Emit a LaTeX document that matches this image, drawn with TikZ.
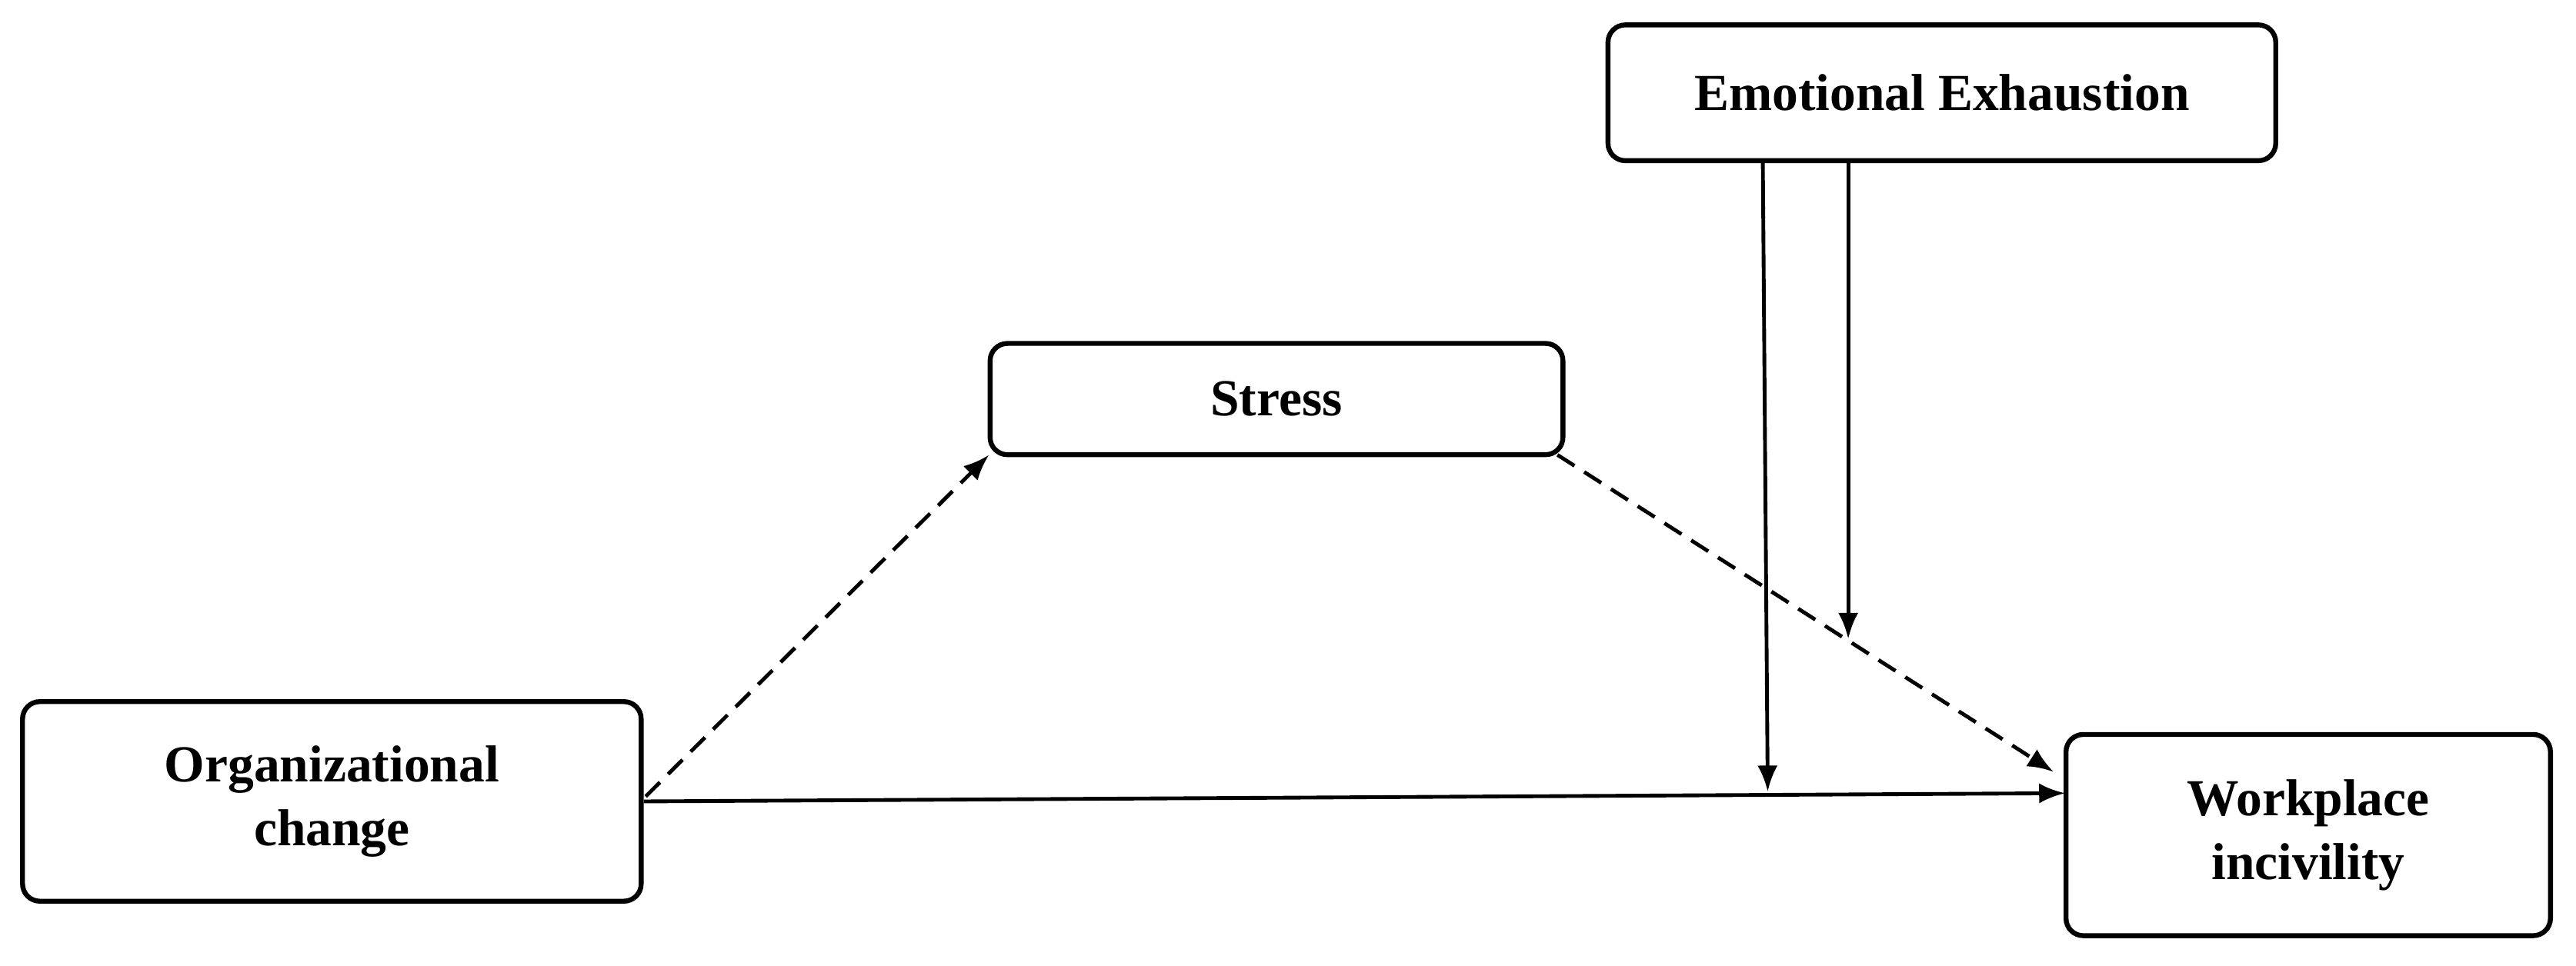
\documentclass[tikz,border=0pt]{standalone}
\usepackage{fontspec}
\setmainfont{Liberation Serif}
\usetikzlibrary{arrows.meta}
\begin{document}
\begin{tikzpicture}[x=0.02cm,y=-0.02cm,
  box/.style={draw,line width=1.7pt,rounded corners=6pt,align=center,font=\fontsize{18}{22}\selectfont\bfseries},
  arr/.style={line width=1.3pt,-{Latex[length=9pt,width=7pt]}},
  dsh/.style={arr,dash pattern=on 7pt off 4pt}]
\useasboundingbox (0,0) rectangle (1568,588);
\node[box,minimum width=408*0.567pt,minimum height=83*0.567pt] (ee) at (1182,56.5) {Emotional Exhaustion};
\node[box,minimum width=350*0.567pt,minimum height=68*0.567pt] (st) at (777,243) {Stress};
\node[box,minimum width=378*0.567pt,minimum height=122*0.567pt] (oc) at (202,488) {Organizational\\change};
\node[box,minimum width=296*0.567pt,minimum height=123*0.567pt] (wi) at (1405,508.5) {Workplace\\incivility};
\coordinate (oa) at (392,488);
\coordinate (wa) at (1257,483);
\coordinate (ob) at (393,485);
\coordinate (sa) at (602,277);
\coordinate (sb) at (948,277);
\coordinate (wb) at (1250,470);
\coordinate (e1) at (1073,98);
\coordinate (h1) at (1076,482);
\coordinate (e2) at (1125,98);
\coordinate (h2) at (1125,389);
\draw[arr] (oa) -- (wa);
\draw[dsh] (ob) -- (sa);
\draw[dsh] (sb) -- (wb);
\draw[arr] (e1) -- (h1);
\draw[arr] (e2) -- (h2);
\end{tikzpicture}
\end{document}
